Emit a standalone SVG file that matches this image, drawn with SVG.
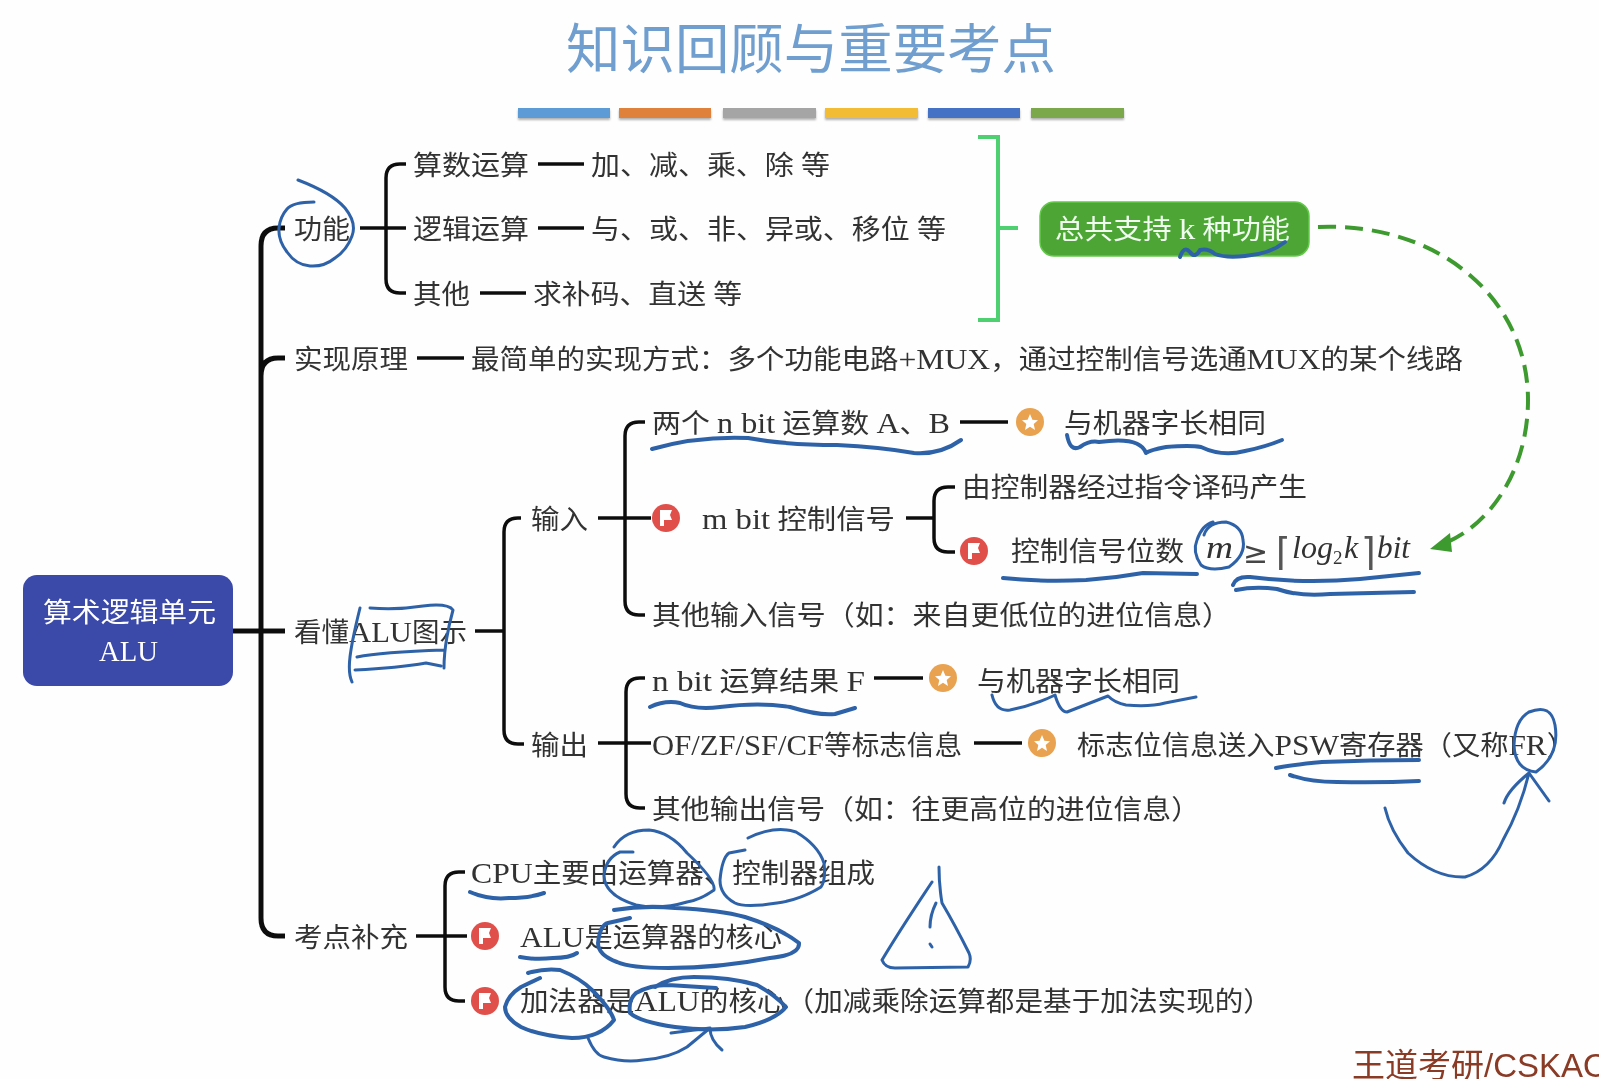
<svg xmlns="http://www.w3.org/2000/svg" width="1599" height="1079" viewBox="0 0 1599 1079">
<defs>
<style>
text{font-family:"Liberation Serif","Noto Sans CJK SC",sans-serif;font-size:27px;fill:#333;}
.t{font-size:30px;}
.wire{fill:none;stroke:#111;stroke-width:3.5;stroke-linecap:butt;}
.spine{fill:none;stroke:#111;stroke-width:5;}
.ink{fill:none;stroke:#2f62a8;stroke-width:3;stroke-linecap:round;stroke-linejoin:round;}
.ink2{fill:none;stroke:#2f62a8;stroke-width:4;stroke-linecap:round;stroke-linejoin:round;}
.flag{fill:#e0504a;}
.star{fill:#e9a24f;}
.badge{fill:#fff;}
.bar{filter:url(#barshadow);}
.math{font-family:"Liberation Serif","DejaVu Serif",serif;font-style:italic;font-size:32px;}
.sym{font-family:"DejaVu Sans",sans-serif;}
</style>
<filter id="soft" x="0" y="0" width="100%" height="100%"><feGaussianBlur stdDeviation="0.45"/></filter>
<filter id="barshadow" x="-5%" y="-20%" width="110%" height="160%"><feDropShadow dx="0" dy="2" stdDeviation="1.2" flood-color="#000" flood-opacity="0.3"/></filter>
</defs>
<rect width="1599" height="1079" fill="#fefefe"/>
<g filter="url(#soft)">
<g id="title">
<text x="566" y="69" textLength="490" lengthAdjust="spacingAndGlyphs" style="font-family:'Noto Sans CJK SC',sans-serif;font-size:54px;fill:#6f9ecf">知识回顾与重要考点</text>
<rect class="bar" x="518" y="108" width="92" height="10" fill="#5b9bd5"/>
<rect class="bar" x="619" y="108" width="92" height="10" fill="#e0813a"/>
<rect class="bar" x="723" y="108" width="93" height="10" fill="#a5a5a5"/>
<rect class="bar" x="825" y="108" width="93" height="10" fill="#f2bc35"/>
<rect class="bar" x="928" y="108" width="92" height="10" fill="#4472c4"/>
<rect class="bar" x="1031" y="108" width="93" height="10" fill="#7aa84c"/>
</g>
<g id="connectors">
<path class="spine" d="M285 228H278Q261 228 261 246V918Q261 936 278 936H285M261 376Q261 358 278 358H285M233 631H285"/>
<path class="wire" d="M360 228H406M406 164H400Q386 164 386 178V279Q386 293 400 293H406"/>
<path class="wire" d="M538 164H584M538 228H584M480 293H526M417 358H464"/>
<path class="wire" d="M475 631H504M521 518H518Q504 518 504 532V730Q504 744 518 744H524"/>
<path class="wire" d="M598 518H651M645 422H639Q625 422 625 436V601Q625 615 639 615H645"/>
<path class="wire" d="M960 422H1008M906 518H934M955 487H948Q934 487 934 501V538Q934 552 948 552H955"/>
<path class="wire" d="M598 743H651M645 678H640Q626 678 626 692V794Q626 808 640 808H645"/>
<path class="wire" d="M874 678H923M974 743H1022"/>
<path class="wire" d="M416 936H467M465 872H459Q445 872 445 886V987Q445 1001 459 1001H465"/>
<path fill="none" stroke="#4fd06f" stroke-width="4" d="M978 137H998V320H978M998 228H1018"/>
<path fill="none" stroke="#3e9a2e" stroke-width="4" stroke-dasharray="18 9" d="M1318 227C1440 222 1528 300 1528 400C1528 470 1490 525 1445 543"/>
<path fill="#3e9a2e" d="M1430 549L1450 533L1452 552z"/>
</g>
<g id="node-root">
<rect x="23" y="575" width="210" height="111" rx="14" fill="#3b48a8"/>
<text x="43" y="622" textLength="173" lengthAdjust="spacingAndGlyphs" style="fill:#fff;">算术逻辑单元</text>
<text x="99" y="661" textLength="59" lengthAdjust="spacingAndGlyphs" style="fill:#fff;"><tspan class="t">ALU</tspan></text>
</g>
<g id="node-gongneng"><text x="294" y="239" textLength="56" lengthAdjust="spacingAndGlyphs">功能</text></g>
<g id="node-suanshu"><text x="413" y="175" textLength="116" lengthAdjust="spacingAndGlyphs">算数运算</text><text x="591" y="175" textLength="239" lengthAdjust="spacingAndGlyphs">加、减、乘、除 等</text></g>
<g id="node-luoji"><text x="413" y="239" textLength="116" lengthAdjust="spacingAndGlyphs">逻辑运算</text><text x="591" y="239" textLength="355" lengthAdjust="spacingAndGlyphs">与、或、非、异或、移位 等</text></g>
<g id="node-qita"><text x="413" y="304" textLength="57" lengthAdjust="spacingAndGlyphs">其他</text><text x="533" y="304" textLength="209" lengthAdjust="spacingAndGlyphs">求补码、直送 等</text></g>
<g id="node-total">
<rect x="1040" y="202" width="269" height="54" rx="14" fill="#4ea536" stroke="#63c94a" stroke-width="1.5"/>
<text x="1055" y="239" textLength="235" lengthAdjust="spacingAndGlyphs" style="fill:#f0fff0;">总共支持 <tspan class="t">k</tspan> 种功能</text>
</g>
<g id="node-yuanli"><text x="294" y="369" textLength="114" lengthAdjust="spacingAndGlyphs">实现原理</text><text x="471" y="369" textLength="992" lengthAdjust="spacingAndGlyphs">最简单的实现方式：多个功能电路<tspan class="t">+MUX</tspan>，通过控制信号选通<tspan class="t">MUX</tspan>的某个线路</text></g>
<g id="node-alu-fig"><text x="294" y="642" textLength="173" lengthAdjust="spacingAndGlyphs">看懂<tspan class="t">ALU</tspan>图示</text></g>
<g id="node-input"><text x="531" y="529" textLength="57" lengthAdjust="spacingAndGlyphs">输入</text></g>
<g id="node-ab">
<text x="652" y="433" textLength="298" lengthAdjust="spacingAndGlyphs">两个 <tspan class="t">n bit</tspan> 运算数 <tspan class="t">A</tspan>、<tspan class="t">B</tspan></text>
<circle class="star" cx="1030" cy="422" r="14"/><polygon class="badge" points="1030,414 1032.4,419.7 1038,420.2 1033.7,424 1035,430 1030,426.8 1025,430 1026.3,424 1022,420.2 1027.6,419.7"/>
<text x="1064" y="433" textLength="202" lengthAdjust="spacingAndGlyphs">与机器字长相同</text>
</g>
<g id="node-ctrl">
<circle class="flag" cx="666" cy="518" r="14"/><path class="badge" d="M660 510h12l-2 5 2 5h-8v6h-4z"/>
<text x="702" y="529" textLength="193" lengthAdjust="spacingAndGlyphs"><tspan class="t">m bit</tspan> 控制信号</text>
</g>
<g id="node-decode"><text x="962" y="497" textLength="345" lengthAdjust="spacingAndGlyphs">由控制器经过指令译码产生</text></g>
<g id="node-bits">
<circle class="flag" cx="974" cy="551" r="14"/><path class="badge" d="M968 543h12l-2 5 2 5h-8v6h-4z"/>
<text x="1011" y="561" textLength="173" lengthAdjust="spacingAndGlyphs">控制信号位数</text>
<text class="math" x="1206" y="558" textLength="27" lengthAdjust="spacingAndGlyphs">m</text>
<text class="sym" x="1243" y="563" style="font-size:30px;fill:#444">≥</text>
<text class="sym" x="1276" y="565" style="font-size:38px;fill:#555">⌈</text>
<text class="math" x="1292" y="558" textLength="41" lengthAdjust="spacingAndGlyphs">log</text>
<text class="math" x="1333" y="564" style="font-size:19px;font-style:normal">2</text>
<text class="math" x="1344" y="558">k</text>
<text class="sym" x="1361" y="565" style="font-size:38px;fill:#555">⌉</text>
<text class="math" x="1377" y="558" textLength="33" lengthAdjust="spacingAndGlyphs">bit</text>
</g>
<g id="node-otherin"><text x="652" y="625" textLength="579" lengthAdjust="spacingAndGlyphs">其他输入信号（如：来自更低位的进位信息）</text></g>
<g id="node-output"><text x="531" y="755" textLength="57" lengthAdjust="spacingAndGlyphs">输出</text></g>
<g id="node-f">
<text x="652" y="691" textLength="213" lengthAdjust="spacingAndGlyphs"><tspan class="t">n bit</tspan> 运算结果 <tspan class="t">F</tspan></text>
<circle class="star" cx="943" cy="678" r="14"/><polygon class="badge" points="943,670 945.4,675.7 951,676.2 946.7,680 948,686 943,682.8 938,686 939.3,680 935,676.2 940.6,675.7"/>
<text x="977" y="691" textLength="203" lengthAdjust="spacingAndGlyphs">与机器字长相同</text>
</g>
<g id="node-flags">
<text x="652" y="755" textLength="310" lengthAdjust="spacingAndGlyphs"><tspan class="t">OF/ZF/SF/CF</tspan>等标志信息</text>
<circle class="star" cx="1042" cy="743" r="14"/><polygon class="badge" points="1042,735 1044.4,740.7 1050,741.2 1045.7,745 1047,751 1042,747.8 1037,751 1038.3,745 1034,741.2 1039.6,740.7"/>
<text x="1077" y="755" textLength="498" lengthAdjust="spacingAndGlyphs">标志位信息送入<tspan class="t">PSW</tspan>寄存器（又称<tspan class="t">FR</tspan>）</text>
</g>
<g id="node-otherout"><text x="652" y="819" textLength="548" lengthAdjust="spacingAndGlyphs">其他输出信号（如：往更高位的进位信息）</text></g>
<g id="node-kaodian"><text x="294" y="947" textLength="114" lengthAdjust="spacingAndGlyphs">考点补充</text></g>
<g id="node-cpu"><text x="471" y="883" textLength="404" lengthAdjust="spacingAndGlyphs"><tspan class="t">CPU</tspan>主要由运算器、控制器组成</text></g>
<g id="node-alucore">
<circle class="flag" cx="485" cy="936" r="14"/><path class="badge" d="M479 928h12l-2 5 2 5h-8v6h-4z"/>
<text x="520" y="947" textLength="262" lengthAdjust="spacingAndGlyphs"><tspan class="t">ALU</tspan>是运算器的核心</text>
</g>
<g id="node-adder">
<circle class="flag" cx="485" cy="1001" r="14"/><path class="badge" d="M479 993h12l-2 5 2 5h-8v6h-4z"/>
<text x="520" y="1011" textLength="752" lengthAdjust="spacingAndGlyphs">加法器是<tspan class="t">ALU</tspan>的核心（加减乘除运算都是基于加法实现的）</text>
</g>
<g id="credit"><text x="1352" y="1077" style="font-family:'Liberation Sans','Noto Sans CJK SC',sans-serif;font-size:33px;fill:#8a3b26">王道考研/CSKAO</text></g>
<g id="annotations">
<path class="ink" d="M298 180Q332 193 345 208Q357 223 352 236Q347 250 335 258Q324 267 310 266Q296 265 287 252Q278 240 279 228Q280 217 287 209Q293 202 314 202"/>
<path class="ink2" d="M1180 257Q1184 245 1190 252Q1195 259 1200 250Q1208 248 1215 254Q1225 258 1245 256Q1270 254 1285 242"/>
<path class="ink" d="M360 608Q352 640 350 657Q348 673 352 682M370 608Q398 610 423 606Q448 603 453 610Q444 643 444 668M357 657Q381 652 444 650M355 670Q398 668 426 663L441 666"/>
<path class="ink2" d="M652 449Q697 436 748 438Q786 445 837 445Q880 447 914 453Q940 455 961 440"/>
<path class="ink2" d="M1067 435Q1070 452 1080 447Q1090 440 1099 442Q1140 436 1146 453Q1150 450 1166 447Q1190 445 1201 447Q1222 457 1245 451Q1265 447 1282 440"/>
<path class="ink2" d="M1003 578Q1040 582 1086 580Q1115 578 1143 573L1197 574"/>
<path class="ink" d="M1204 535Q1208 522 1226 522Q1242 526 1243 540Q1246 555 1229 567Q1210 572 1201 565Q1192 552 1197 540Q1202 525 1213 522"/>
<path class="ink2" d="M1233 585Q1236 576 1250 577Q1303 584 1360 579Q1390 576 1419 573"/>
<path class="ink2" d="M1236 590Q1255 586 1277 589Q1300 597 1330 594L1414 592"/>
<path class="ink2" d="M650 707Q665 700 680 703Q695 710 720 707Q760 702 790 707Q820 716 835 714L855 708"/>
<path class="ink" d="M992 695Q996 712 1010 710Q1035 705 1055 695Q1060 712 1067 712Q1085 705 1108 696Q1115 703 1126 705Q1150 707 1165 703L1196 697"/>
<path class="ink2" d="M1276 768Q1290 765 1322 762Q1370 760 1419 760"/>
<path class="ink2" d="M1290 775Q1310 782 1337 782Q1380 783 1419 781"/>
<path class="ink" d="M1529 712Q1551 703 1555 725Q1560 755 1536 772Q1515 770 1514 745Q1515 720 1529 712"/>
<path class="ink" d="M1385 808Q1390 830 1408 853Q1435 878 1465 877Q1490 870 1503 840Q1520 810 1529 773M1504 803Q1508 790 1529 773L1549 801"/>
<path class="ink2" d="M470 892Q488 900 509 898Q530 898 544 893"/>
<path class="ink" d="M614 847Q625 830 649 830Q670 832 687 853Q716 880 714 890Q700 900 687 902Q660 910 636 905Q604 895 604 875Q606 858 620 852L633 852"/>
<path class="ink" d="M748 838Q775 825 796 832Q818 845 824 863Q826 880 821 887Q800 900 777 903Q745 908 735 903Q720 895 720 880Q722 858 729 853L745 850"/>
<path class="ink2" d="M520 957Q535 960 553 958Q570 958 577 953"/>
<path class="ink2" d="M614 910Q645 905 675 908Q720 910 745 917Q780 928 799 943Q800 955 770 958Q720 968 668 968Q630 968 617 962Q598 955 598 943Q600 925 608 923L630 918"/>
<path class="ink2" d="M528 973Q545 968 560 970Q580 978 592 990Q610 1008 614 1020Q600 1038 572 1038Q540 1036 521 1027Q505 1018 505 1007Q508 995 521 987L540 978"/>
<path class="ink2" d="M655 987Q670 977 694 977Q730 977 757 985Q775 995 786 1007Q775 1020 745 1027Q710 1032 675 1027Q640 1022 630 1013Q628 1000 636 993Q650 985 668 985L716 988"/>
<path class="ink" d="M588 1038Q595 1055 604 1057Q625 1063 643 1060Q670 1058 687 1047L710 1028M671 1033L710 1028Q710 1040 722 1050"/>
<path class="ink" d="M932 882Q900 930 882 960Q885 968 895 968L968 967Q972 960 969 953Q955 925 942 903Q939 885 939 867"/>
<path class="ink" d="M936 903Q930 915 930 927M930 944L932 947"/>
</g>
</g>
</svg>
